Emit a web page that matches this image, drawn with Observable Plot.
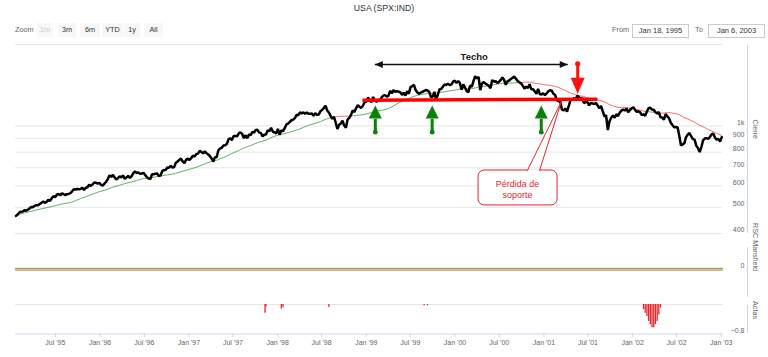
<!DOCTYPE html>
<html lang="es">
<head>
<meta charset="utf-8">
<script src="https://cdn.jsdelivr.net/npm/d3@7"></script>
<script src="https://cdn.jsdelivr.net/npm/@observablehq/plot@0.6"></script>
<style>
  html,body{margin:0;padding:0;background:#fff;}
  #chart{position:relative;width:768px;height:357px;overflow:hidden;font-family:"Liberation Sans",Arial,sans-serif;}
  #title{position:absolute;left:0;top:3px;width:768px;text-align:center;font-size:8.7px;color:#333;}
  .lbl{position:absolute;top:23px;line-height:14px;font-size:7.3px;color:#666;}
  .btn{position:absolute;top:23px;height:14px;line-height:14px;background:#f7f7f7;color:#333;font-size:7.3px;text-align:center;}
  .btn.dis{color:#cccccc;}
  .inp{position:absolute;top:24px;height:12px;line-height:12px;border:1px solid #cccccc;font-size:7.5px;color:#333;text-align:center;}
  .axl{position:absolute;left:747px;width:1px;background:#ccd6eb;}
  .panel{position:absolute;left:0;}
</style>
</head>
<body>
<div id="chart">
  <div id="title">USA (SPX:IND)</div>
  <div class="lbl" style="left:15px">Zoom</div>
  <div class="btn dis" style="left:37px;width:16px">1m</div>
  <div class="btn" style="left:58px;width:18px">3m</div>
  <div class="btn" style="left:80px;width:20px">6m</div>
  <div class="btn" style="left:102px;width:21px">YTD</div>
  <div class="btn" style="left:124px;width:16px">1y</div>
  <div class="btn" style="left:144px;width:19px">All</div>
  <div class="lbl" style="left:612px">From</div>
  <div class="inp" style="left:632px;width:55px">Jan 18, 1995</div>
  <div class="lbl" style="left:695px">To</div>
  <div class="inp" style="left:708px;width:55px">Jan 6, 2003</div>
  <div class="axl" style="top:45px;height:188px"></div>
  <div class="axl" style="top:247px;height:50px"></div>
  <div class="axl" style="top:305px;height:28px"></div>
  <div class="panel" id="pMain" style="top:39px"></div>
  <div class="panel" id="pRsc" style="top:244px"></div>
  <div class="panel" id="pActas" style="top:300px"></div>
</div>
<script>
// ---------- DATA ----------
const rangeStart = "1995-01-18";
const rangeEnd = "2003-01-06";

// Weekly closes (Friday), one array per year, first Friday of each array:
const weekStarts = ["1995-01-20","1996-01-05","1997-01-03","1998-01-02","1999-01-01","2000-01-07","2001-01-05","2002-01-04","2003-01-03"];
const close1995 = [464.8,470.4,478.6,481.5,482.0,488.1,485.4,489.6,495.5,501.0,500.7,506.4,509.2,508.5,514.7,520.1,525.6,519.2,523.7,532.5,527.9,539.8,549.7,544.8,556.4,560.3,553.5,562.9,558.9,555.1,559.2,560.1,563.8,572.7,583.4,581.7,584.4,582.6,584.5,590.6,579.7,589.7,593.0,606.0,600.0,607.0,617.7,616.3,612.0,615.9];
const close1996 = [605.0,601.8,611.4,621.6,635.8,656.4,648.0,659.1,644.4,633.5,641.4,650.6,645.5,655.9,636.7,645.1,653.5,641.6,652.1,668.9,678.5,669.1,673.3,665.2,666.8,670.6,657.4,646.2,638.7,635.9,662.5,662.1,665.2,667.0,652.0,655.7,680.5,687.0,686.2,701.5,700.7,710.8,700.9,703.8,730.8,737.6,748.7,757.0,739.6,728.6,748.9,756.8];
const close1997 = [748.0,759.5,776.2,770.5,786.2,789.6,808.5,801.8,790.8,805.0,793.2,784.1,773.9,757.9,737.7,766.3,765.4,813.0,824.8,829.8,847.0,848.3,858.0,893.3,898.7,887.3,916.9,916.7,915.3,938.8,947.1,933.5,900.8,923.5,899.5,929.1,923.9,950.5,945.2,965.0,967.0,944.2,941.6,914.6,927.5,928.4,963.1,955.4,983.8,953.4,946.8,936.5];
const close1998 = [975.0,927.7,961.5,957.6,980.3,1012.5,1020.1,1034.2,1049.3,1055.7,1068.6,1099.2,1095.4,1122.7,1110.7,1122.7,1107.9,1121.0,1108.1,1108.7,1110.5,1090.8,1113.9,1098.8,1100.7,1133.2,1146.4,1164.3,1186.8,1140.8,1120.7,1089.5,1062.8,1081.2,1027.1,973.9,1009.1,1020.1,1044.8,1002.6,984.6,1056.4,1070.7,1098.7,1141.0,1125.7,1163.6,1192.3,1176.7,1166.5,1188.0,1226.3];
const close1999 = [1229.2,1275.1,1243.3,1225.2,1279.6,1239.4,1230.1,1239.2,1238.3,1275.5,1294.6,1299.3,1282.8,1293.7,1348.4,1319.0,1356.9,1335.2,1345.0,1337.8,1330.3,1301.8,1327.8,1293.6,1342.8,1315.3,1391.2,1403.3,1418.8,1356.9,1328.7,1313.7,1327.7,1336.6,1348.3,1357.2,1351.7,1335.4,1277.4,1282.8,1336.0,1247.4,1301.7,1362.9,1370.2,1397.0,1422.0,1416.6,1433.3,1417.0,1421.0,1458.3,1469.3];
const close2000 = [1441.5,1465.2,1441.4,1360.2,1424.4,1387.1,1346.1,1333.4,1409.2,1395.1,1464.5,1527.5,1498.6,1516.4,1356.6,1434.5,1452.4,1432.6,1421.0,1407.0,1378.0,1477.3,1457.0,1464.5,1441.5,1454.6,1478.9,1510.0,1480.2,1419.9,1462.9,1471.8,1491.7,1506.5,1520.8,1494.5,1465.8,1449.1,1436.5,1409.0,1374.2,1396.9,1379.6,1426.7,1366.0,1367.7,1341.8,1315.2,1369.9,1312.2,1306.0,1320.3];
const close2001 = [1298.4,1318.3,1342.5,1355.0,1349.5,1314.8,1301.5,1245.9,1234.2,1233.4,1150.5,1139.8,1160.3,1128.4,1183.5,1243.0,1253.1,1266.6,1245.7,1292.0,1277.9,1260.7,1265.0,1214.4,1225.4,1224.4,1190.6,1215.7,1210.9,1205.8,1214.4,1190.2,1162.0,1184.9,1133.6,1085.8,1092.5,965.8,1040.9,1071.4,1091.7,1073.5,1104.6,1087.2,1120.3,1138.7,1150.3,1139.5,1158.3,1123.1,1144.9,1161.0];
const close2002 = [1172.5,1145.6,1127.6,1133.3,1122.2,1096.2,1104.2,1089.8,1131.8,1164.3,1166.2,1148.7,1147.4,1122.7,1111.0,1125.2,1076.3,1073.4,1055.0,1106.6,1083.8,1067.1,1027.5,1007.3,989.1,989.8,989.0,921.4,847.8,852.8,864.2,908.6,928.8,940.9,916.1,893.9,889.8,845.4,827.4,800.6,835.3,884.4,897.7,901.0,894.7,909.8,930.6,936.3,906.6,889.5,895.8,875.4];
const close2003 = [908.6];
const maWeeks = 34;

const priceTicks = [400,500,600,700,800,900,1000];
const priceTickLabels = ["400","500","600","700","800","900","1k"];
const priceGrid = [400,500,600,700,800,900,1000,2000];

const rscDates = ["1995-01-18","2003-01-06"];
const rscValues = [0,0];
const rscTicks = [0];

const actasDates = ["1997-11-10","1997-11-14","1998-01-16","1998-01-23","1998-07-31","1999-08-27","1999-09-10","2002-02-15","2002-02-22","2002-03-01","2002-03-08","2002-03-15","2002-03-22","2002-03-29","2002-04-05","2002-04-12","2002-04-19","2002-04-26"];
const actasValues = [-0.27,-0.08,-0.14,-0.10,-0.09,-0.04,-0.04,-0.16,-0.27,-0.37,-0.52,-0.62,-0.71,-0.71,-0.62,-0.52,-0.32,-0.11];
const actasTicks = [-0.8];

const xTickDates = ["1995-07-01","1996-01-01","1996-07-01","1997-01-01","1997-07-01","1998-01-01","1998-07-01","1999-01-01","1999-07-01","2000-01-01","2000-07-01","2001-01-01","2001-07-01","2002-01-01","2002-07-01","2003-01-01"];

// annotations (dates / price levels)
const techoText = "Techo";
const techoTextDate = "2000-03-20", techoTextPrice = 1806;
const techoFrom = "1999-02-05", techoTo = "2001-04-09", techoPrice = 1687;
const supportFrom = "1998-12-16", supportTo = "2001-08-09";
const supportPriceFrom = 1245, supportPriceTo = 1255;
const greenArrowDates = ["1999-02-07","1999-09-29","2000-12-21"];
const greenTip = 1190, greenNeck = 1062, greenBase = 948;
const redArrowDate = "2001-05-20";
const redTop = 1697, redNeck = 1497, redTip = 1314;
const calloutText = "Pérdida de\nsoporte";
const calloutFrom = "2000-04-07", calloutTo = "2001-02-26";
const calloutTop = 684, calloutBottom = 508;
const calloutTextDate = "2000-09-14", calloutTextPrice = 584;
const calloutTipDate = "2001-03-14", calloutTipPrice = 1231;
const calloutBase1 = "2000-10-25", calloutBase2 = "2000-12-14";

// ---------- BUILD ----------
const D = s => new Date(s);
const x0 = D(rangeStart), x1 = D(rangeEnd);
const closeYears = [close1995,close1996,close1997,close1998,close1999,close2000,close2001,close2002,close2003];
const prices = [];
closeYears.forEach((arr,k) => {
  const s = D(weekStarts[k]);
  arr.forEach((v,i) => prices.push({date: d3.utcDay.offset(s, 7*i), close: v}));
});
prices.forEach((d,i) => {
  d.ma = d3.mean(prices.slice(Math.max(0, i - maWeeks + 1), i + 1), p => p.close);
});
const segs = [];
for (let i = 1; i < prices.length; i++) {
  segs.push({xa: prices[i-1].date, ya: prices[i-1].ma, xb: prices[i].date, yb: prices[i].ma, up: prices[i].close >= prices[i].ma});
}
const segUp = segs.filter(s => s.up), segDown = segs.filter(s => !s.up);

const GREEN_MA = "#58b158", RED_MA = "#ff6464";
const font = '"Liberation Sans", Arial, sans-serif';
const baseStyle = {fontFamily: font, fontSize: "7px", background: "transparent", overflow: "visible"};
const common = {width: 768, marginLeft: 15, marginRight: 46};

const headUp = {draw(c){ c.moveTo(0,0); c.lineTo(6.5,13); c.lineTo(-6.5,13); c.closePath(); }};
const headDown = {draw(c){ c.moveTo(0,0); c.lineTo(7,-16); c.lineTo(-7,-16); c.closePath(); }};
const headLeft = {draw(c){ c.moveTo(0,0); c.lineTo(8,-3.6); c.lineTo(8,3.6); c.closePath(); }};
const headRight = {draw(c){ c.moveTo(0,0); c.lineTo(-8,-3.6); c.lineTo(-8,3.6); c.closePath(); }};

const techo = [{a: D(techoFrom), b: D(techoTo), y: techoPrice}];
const support = [{a: D(supportFrom), b: D(supportTo), ya: supportPriceFrom, yb: supportPriceTo}];
const greens = greenArrowDates.map(s => ({date: D(s), tip: greenTip, neck: greenNeck, base: greenBase}));
const reds = [{date: D(redArrowDate), top: redTop, neck: redNeck, tip: redTip}];
const callout = [{a: D(calloutFrom), b: D(calloutTo), top: calloutTop, bottom: calloutBottom}];
const wedge = [{date: D(calloutBase1), p: calloutTop}, {date: D(calloutTipDate), p: calloutTipPrice}, {date: D(calloutBase2), p: calloutTop}];
const wedgeCover = [{a: D(calloutBase1), b: D(calloutBase2), p: calloutTop}];

const main = Plot.plot({
  ...common, height: 200, marginTop: 5, marginBottom: 6,
  style: baseStyle,
  x: {type: "utc", domain: [x0, x1], axis: null},
  y: {type: "log", domain: [400, 2000], axis: null},
  marks: [
    Plot.ruleY(priceGrid, {stroke: "#e6e6e6", strokeWidth: 1}),
    Plot.text(priceTicks, {y: d => d, text: (d,i) => priceTickLabels[i], frameAnchor: "right", dx: 22, dy: -3.5, textAnchor: "end", fill: "#666", fontSize: 7}),
    Plot.text(["Cierre"], {frameAnchor: "right", dx: 33, rotate: 90, fill: "#666", fontSize: 7.2}),
    Plot.link(segUp, {x1: "xa", y1: "ya", x2: "xb", y2: "yb", stroke: GREEN_MA, strokeWidth: 1}),
    Plot.link(segDown, {x1: "xa", y1: "ya", x2: "xb", y2: "yb", stroke: RED_MA, strokeWidth: 1}),
    Plot.line(prices, {x: "date", y: "close", stroke: "#000", strokeWidth: 2.5, strokeLinejoin: "miter"}),
    // support line
    Plot.link(support, {x1: "a", x2: "b", y1: "ya", y2: "yb", stroke: "#ff0000", strokeWidth: 3.5}),
    // techo arrow
    Plot.link(techo, {x1: "a", x2: "b", y1: "y", y2: "y", stroke: "#111", strokeWidth: 1.4}),
    Plot.dot(techo, {x: "a", y: "y", symbol: headLeft, fill: "#111", stroke: "none", r: 4}),
    Plot.dot(techo, {x: "b", y: "y", symbol: headRight, fill: "#111", stroke: "none", r: 4}),
    Plot.text([techoText], {x: () => D(techoTextDate), y: () => techoTextPrice, fontWeight: "bold", fontSize: 9.5, fill: "#222"}),
    // green arrows
    Plot.link(greens, {x1: "date", x2: "date", y1: "base", y2: "neck", stroke: "#0a820a", strokeWidth: 3}),
    Plot.dot(greens, {x: "date", y: "base", r: 2.4, fill: "#0a820a", stroke: "none"}),
    Plot.dot(greens, {x: "date", y: "tip", symbol: headUp, fill: "#0a820a", stroke: "none", r: 5}),
    // red arrow
    Plot.link(reds, {x1: "date", x2: "date", y1: "top", y2: "neck", stroke: "#ff1010", strokeWidth: 3}),
    Plot.dot(reds, {x: "date", y: "top", r: 2.6, fill: "#ff1010", stroke: "none"}),
    Plot.dot(reds, {x: "date", y: "tip", symbol: headDown, fill: "#ff1010", stroke: "none", r: 5}),
    // callout
    Plot.rect(callout, {x1: "a", x2: "b", y1: "top", y2: "bottom", rx: 6, fill: "#fff", stroke: "#e2262b", strokeWidth: 1}),
    Plot.link(wedgeCover, {x1: "a", x2: "b", y1: "p", y2: "p", stroke: "#fff", strokeWidth: 2.5}),
    Plot.line(wedge, {x: "date", y: "p", stroke: "#e2262b", strokeWidth: 1, fill: "none"}),
    Plot.text([calloutText], {x: () => D(calloutTextDate), y: () => calloutTextPrice, fill: "#e2262b", fontSize: 9, lineHeight: 1.2})
  ]
});
document.getElementById("pMain").append(main);

const rscData = rscDates.map((s,i) => ({date: D(s), value: rscValues[i]}));
const rsc = Plot.plot({
  ...common, height: 56, marginTop: 3, marginBottom: 6,
  style: baseStyle,
  x: {type: "utc", domain: [x0, x1], axis: null},
  y: {domain: [-25, 20], axis: null},
  marks: [
    Plot.line(rscData, {x: "date", y: "value", stroke: "#e0553a", strokeWidth: 1.2, dy: 1.6}),
    Plot.line(rscData, {x: "date", y: "value", stroke: "#74b860", strokeWidth: 1.2}),
    Plot.text(rscTicks, {y: d => d, text: d => String(d), frameAnchor: "right", dx: 22, dy: -3, textAnchor: "end", fill: "#666", fontSize: 7}),
    Plot.text(["RSC Mansfield"], {frameAnchor: "right", dx: 33, rotate: 90, fill: "#666", fontSize: 7.2})
  ]
});
document.getElementById("pRsc").append(rsc);

const actas = actasDates.map((s,i) => ({date: D(s), value: actasValues[i]}));
const fmt = d3.utcFormat("%b '%y");
const actasPlot = Plot.plot({
  ...common, height: 57, marginTop: 4, marginBottom: 24,
  style: baseStyle,
  x: {type: "utc", domain: [x0, x1], label: null},
  y: {domain: [-0.89, 0], axis: null},
  marks: [
    Plot.ruleY([0], {stroke: "#e6e6e6", strokeWidth: 1}),
    Plot.ruleX(actas, {x: "date", y1: 0, y2: "value", stroke: "#e8262a", strokeWidth: 1.3}),
    Plot.ruleY([-0.89], {stroke: "#ccd6eb", strokeWidth: 1, dy: 0.5}),
    Plot.axisX(xTickDates.map(D), {anchor: "bottom", tickSize: 4, tickPadding: 3, tickFormat: fmt, stroke: "#ccd6eb", fill: "#666", fontSize: 7, label: null}),
    Plot.text(actasTicks, {y: d => d, text: d => "−" + Math.abs(d), frameAnchor: "right", dx: 22, dy: 0, textAnchor: "end", fill: "#666", fontSize: 7}),
    Plot.text(["Actas"], {frameAnchor: "right", dx: 33, rotate: 90, fill: "#666", fontSize: 7.2})
  ]
});
document.getElementById("pActas").append(actasPlot);
</script>
</body>
</html>
